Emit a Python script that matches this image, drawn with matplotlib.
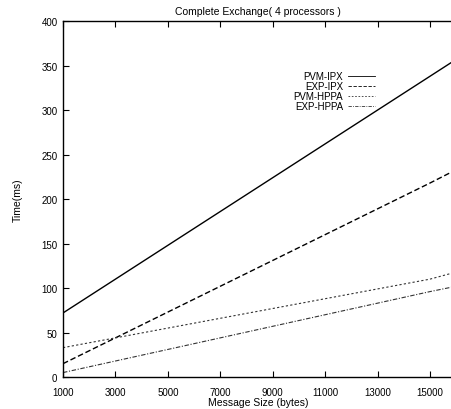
import matplotlib
matplotlib.use('Agg')
import matplotlib.pyplot as plt

# Данные
msg_size = [1000, 3000, 5000, 7000, 9000, 11000, 13000, 15000, 16000]
pvm_ipx = [72, 110, 148, 186, 224, 262, 300, 338, 357]
exp_ipx = [15, 44, 73, 102, 131, 160, 189, 218, 233]
pvm_hppa = [33, 44, 55, 66, 77, 88, 99, 110, 118]
exp_hppa = [5, 18, 31, 44, 57, 70, 83, 96, 102]

x_ticks = [1000, 3000, 5000, 7000, 9000, 11000, 13000, 15000]
y_ticks = [0, 50, 100, 150, 200, 250, 300, 350, 400]

plt.rcParams['font.family'] = ['Liberation Sans', 'DejaVu Sans']

fig = plt.figure(figsize=(4.51, 4.10), dpi=100)
# правый край осей чуть за пределами картинки, как в оригинале
ax = fig.add_axes([0.1397, 0.078, 0.8647, 0.868])

ax.plot(msg_size, pvm_ipx, color='black', lw=1.0, linestyle='-', label='PVM-IPX')
ax.plot(msg_size, exp_ipx, color='black', lw=1.0, linestyle=(0, (4, 2)), label='EXP-IPX')
ax.plot(msg_size, pvm_hppa, color='#333333', lw=0.8, linestyle=(0, (2, 2)), label='PVM-HPPA')
ax.plot(msg_size, exp_hppa, color='#333333', lw=0.8, linestyle=(0, (4, 1.5, 1, 1.5)), label='EXP-HPPA')

ax.set_xlim(1000, 15880)
ax.set_ylim(0, 400)
ax.set_xticks(x_ticks)
ax.set_yticks(y_ticks)
ax.tick_params(axis='both', direction='in', labelsize=7, length=4, top=True, right=False)
ax.tick_params(axis='x', pad=7)
ax.tick_params(axis='y', pad=4)
for s in ax.spines.values():
    s.set_linewidth(1.0)

ax.set_xlabel('Message Size (bytes)', fontsize=7.5, labelpad=0)
ax.set_ylabel('Time(ms)', fontsize=7.5, labelpad=13)
ax.set_title('Complete Exchange( 4 processors )', fontsize=7.5, pad=5)

leg = ax.legend(loc='upper right', bbox_to_anchor=(0.81, 0.87), frameon=False, fontsize=7,
                markerfirst=False, handlelength=2.8, handletextpad=0.5, labelspacing=0.0,
                borderaxespad=0)
for t in leg.get_texts():
    t.set_ha('right')
leg._legend_box.align = 'right'
for h in leg.get_lines():
    h.set_linewidth(0.6)

fig.savefig('out.png', dpi=100)
